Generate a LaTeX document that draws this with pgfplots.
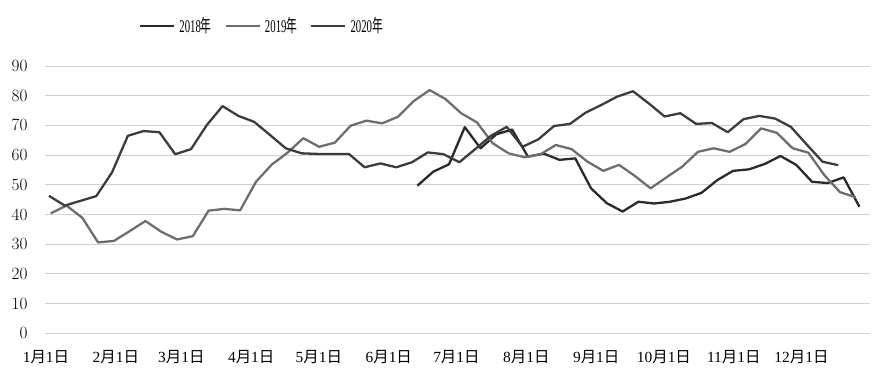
\documentclass[border=0pt]{standalone}
\usepackage{pgfplots}
\pgfplotsset{compat=1.18}
\usepackage{fontspec}
\setmainfont{Liberation Serif}
\newfontfamily\cjk{Noto Sans CJK SC}
\newcommand{\md}[1]{#1{\cjk 月}1{\cjk 日}}
\newcommand{\yr}[1]{\hspace*{2bp}\scalebox{0.6}[1]{#1{\cjk 年}}}
\definecolor{c2018}{HTML}{2A2A2A}
\definecolor{c2019}{HTML}{6E6E6E}
\definecolor{c2020}{HTML}{3C3C3C}
\begin{document}
\begin{tikzpicture}[x=1bp,y=1bp]
\useasboundingbox (0,0) rectangle (875,384);
\begin{axis}[
  at={(45bp,50.7bp)}, anchor=south west,
  scale only axis, width=825bp, height=267.3bp,
  xmin=-0.44, xmax=365.4, ymin=0, ymax=90,
  axis line style={draw=none},
  ytick={0,10,...,90},
  ymajorgrids, grid style={draw=black!18, line width=0.9bp},
  major tick length=0pt,
  xtick={0,31,60,91,121,152,182,213,244,274,305,335},
  xticklabels={\md{1},\md{2},\md{3},\md{4},\md{5},\md{6},\md{7},\md{8},\md{9},\md{10},\md{11},\md{12}},
  xticklabel style={font=\fontsize{15.5}{15.5}\selectfont, yshift=-14bp},
  yticklabel style={font=\fontsize{17}{17}\selectfont, xshift=-14bp},
  legend style={draw=none, fill=none, at={(0.263,1.15)}, anchor=center,
    legend columns=3, font=\fontsize{18}{18}\selectfont,
    /tikz/every even column/.append style={column sep=11bp}},
  legend image code/.code={\draw[#1] (0bp,0bp) -- (34bp,0bp);},
  every axis plot/.append style={line width=2.3bp, line join=round, mark=none},
]
\addplot[c2018] table {
x y
164.7 49.7
171.7 54.4
178.7 56.9
185.7 69.4
192.7 62.3
199.7 67.0
206.7 68.6
213.7 59.5
220.7 60.5
227.7 58.4
234.7 58.9
241.7 48.8
248.7 43.8
255.7 41.0
262.7 44.3
269.7 43.7
276.7 44.3
283.7 45.4
290.7 47.3
297.7 51.6
304.7 54.7
311.7 55.2
318.7 57.0
325.7 59.7
332.7 56.7
339.7 51.0
346.7 50.6
353.7 52.5
360.7 42.6
};
\addlegendentry{\yr{2018}}
\addplot[c2019] table {
x y
2.1 40.4
9.1 43.0
16.1 38.9
23.1 30.6
30.1 31.1
37.1 34.4
44.1 37.8
51.1 34.2
58.1 31.6
65.1 32.7
72.1 41.3
79.1 41.9
86.1 41.4
93.1 51.0
100.1 56.8
107.1 60.8
114.1 65.7
121.1 62.8
128.1 64.2
135.1 69.9
142.1 71.6
149.1 70.7
156.1 72.9
163.1 78.2
170.1 81.9
177.1 78.9
184.1 74.1
191.1 71.0
198.1 64.0
205.1 60.6
212.1 59.3
219.1 60.2
226.1 63.4
233.1 62.0
240.1 57.8
247.1 54.7
254.1 56.7
261.1 53.0
268.1 48.8
275.1 52.5
282.1 56.1
289.1 61.1
296.1 62.3
303.1 61.1
310.1 63.7
317.1 69.0
324.1 67.5
331.1 62.3
338.1 60.8
345.1 53.3
352.1 47.5
359.1 45.8
};
\addlegendentry{\yr{2019}}
\addplot[c2020] table {
x y
1.3 46.3
8.3 43.0
15.3 44.6
22.3 46.2
29.3 54.2
36.3 66.5
43.3 68.1
50.3 67.7
57.3 60.3
64.3 62.0
71.3 70.1
78.3 76.5
85.3 73.2
92.3 71.2
99.3 66.8
106.3 62.3
113.3 60.6
120.3 60.4
127.3 60.4
134.3 60.4
141.3 55.9
148.3 57.2
155.3 55.9
162.3 57.6
169.3 60.9
176.3 60.3
183.3 57.6
190.3 62.0
197.3 66.5
204.3 69.5
211.3 62.8
218.3 65.3
225.3 69.8
232.3 70.5
239.3 74.3
246.3 76.9
253.3 79.7
260.3 81.5
267.3 77.4
274.3 73.0
281.3 74.1
288.3 70.5
295.3 70.8
302.3 67.7
309.3 72.1
316.3 73.2
323.3 72.3
330.3 69.5
337.3 63.6
344.3 57.8
351.3 56.6
};
\addlegendentry{\yr{2020}}
\end{axis}
\end{tikzpicture}
\end{document}
